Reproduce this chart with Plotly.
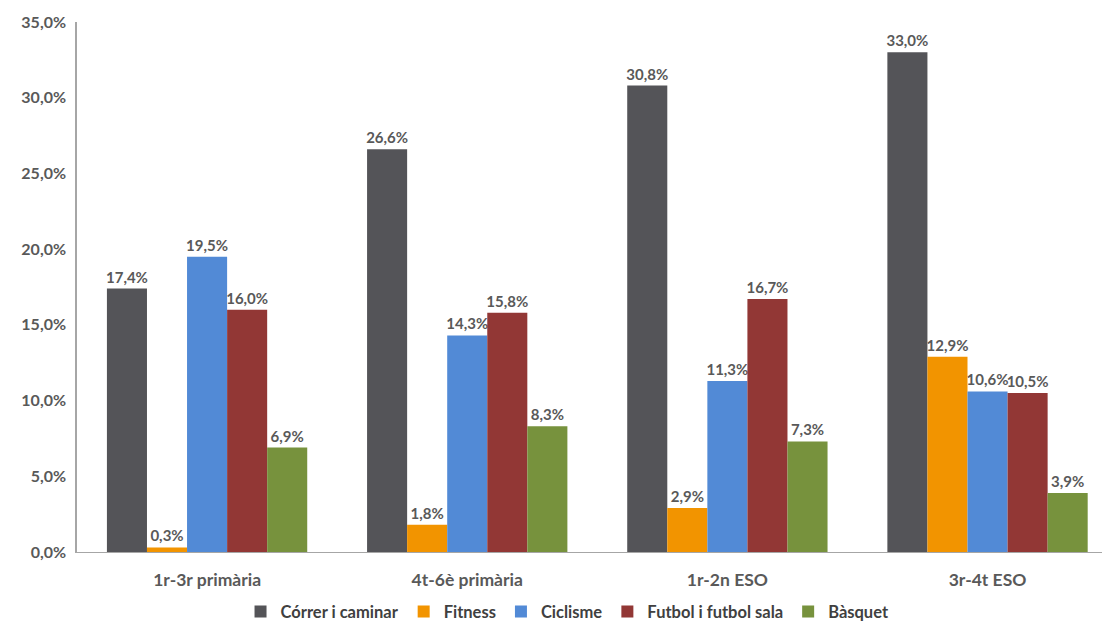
import plotly.graph_objects as go

# Categories (school stages) and sports
etapes = ["1r-3r primària", "4t-6è primària", "1r-2n ESO", "3r-4t ESO"]
esports = ["Córrer i caminar", "Fitness", "Ciclisme", "Futbol i futbol sala", "Bàsquet"]

# Percentages per sport, one value per stage
correr = [17.4, 26.6, 30.8, 33.0]
fitness = [0.3, 1.8, 2.9, 12.9]
ciclisme = [19.5, 14.3, 11.3, 10.6]
futbol = [16.0, 15.8, 16.7, 10.5]
basquet = [6.9, 8.3, 7.3, 3.9]

valors = [correr, fitness, ciclisme, futbol, basquet]
colors = ["#545458", "#F29400", "#528AD6", "#923735", "#77923D"]

FONT = "Lato"
GRAY = "#595959"

fig = go.Figure()
for nom, vals, col in zip(esports, valors, colors):
    fig.add_trace(go.Bar(
        name=nom,
        x=etapes,
        y=vals,
        marker=dict(color=col, line=dict(width=0)),
        text=[f"{v:.1f}".replace(".", ",") + "%" for v in vals],
        textposition="outside",
        constraintext="none",
        cliponaxis=False,
        textfont=dict(family=FONT, size=15, color=GRAY, weight="bold"),
    ))

fig.update_layout(
    width=1102,
    height=623,
    barmode="group",
    bargap=0.23,
    bargroupgap=0,
    plot_bgcolor="white",
    paper_bgcolor="white",
    separators=",.",
    margin=dict(l=77, r=0, t=22, b=71, autoexpand=False),
    font=dict(family=FONT, size=15, color=GRAY),
    legend=dict(
        orientation="h",
        x=0.515, xanchor="center", xref="container",
        y=0.018, yanchor="middle", yref="container",
        font=dict(family=FONT, size=16.5, color="#404040", weight="bold"),
        itemwidth=30,
        traceorder="normal",
    ),
    xaxis=dict(
        range=[-0.5, 3.44],
        showline=True,
        linecolor="#A6A6A6",
        linewidth=1,
        ticks="",
        ticklabelstandoff=12,
        tickfont=dict(family=FONT, size=17.5, color=GRAY, weight="bold"),
        showgrid=False,
    ),
    yaxis=dict(
        range=[0, 35],
        dtick=5,
        tickformat=".1f",
        ticksuffix="%",
        showline=True,
        linecolor="#A6A6A6",
        linewidth=1.5,
        showgrid=False,
        zeroline=False,
        ticks="",
        ticklabelstandoff=6,
        tickfont=dict(family=FONT, size=16, color=GRAY, weight="bold"),
    ),
)

fig.write_html("out.html")
